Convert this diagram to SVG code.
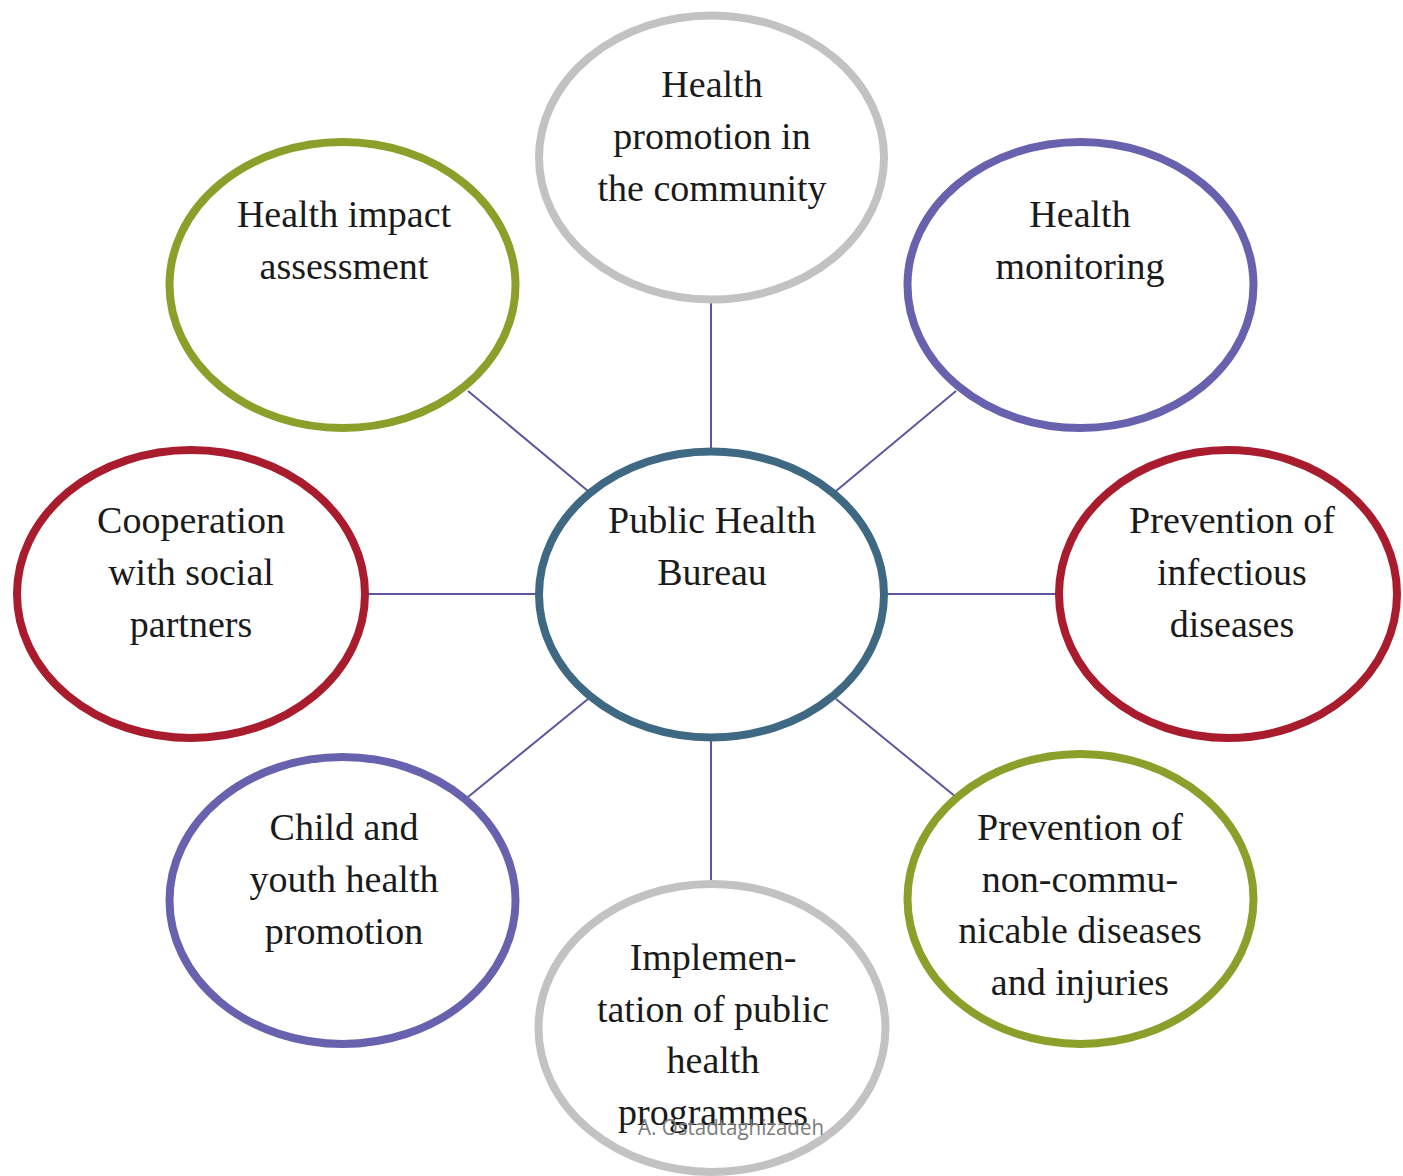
<svg xmlns="http://www.w3.org/2000/svg" width="1403" height="1176" viewBox="0 0 1403 1176">
  <style>
    .ring { fill: #ffffff; stroke-width: 8; }
    .center { stroke: #3f6983; }
    .gray { stroke: #c2c2c2; }
    .green { stroke: #8b9f2b; }
    .purple { stroke: #6761ae; }
    .red { stroke: #a91c2d; }
    .link { stroke: #5c56a0; stroke-width: 2; fill: none; }
    .label { font-family: "Liberation Serif", "Times New Roman", serif; font-size: 38px; fill: #1a1a1a; text-anchor: middle; }
    .mark { font-family: "Open Sans", "Liberation Sans", sans-serif; font-size: 21px; fill: #7c7c7c; }
  </style>
  <rect width="1403" height="1176" fill="#ffffff"/>

  <!-- spokes from the bureau to each area of work -->
  <g id="connectors">
    <line class="link" x1="711" y1="301" x2="711" y2="450"/>
    <line class="link" x1="468" y1="391" x2="588" y2="491"/>
    <line class="link" x1="956" y1="391" x2="836" y2="491"/>
    <line class="link" x1="365" y1="594" x2="537" y2="594"/>
    <line class="link" x1="886" y1="594" x2="1057" y2="594"/>
    <line class="link" x1="588" y1="699" x2="468" y2="797"/>
    <line class="link" x1="836" y1="699" x2="956" y2="797"/>
    <line class="link" x1="711" y1="739" x2="711" y2="882"/>
  </g>

  <g id="node-bureau">
    <ellipse class="ring center" cx="711.5" cy="594.5" rx="172.5" ry="143"/>
    <text class="label" x="712" y="533">Public Health</text>
    <text class="label" x="712" y="585">Bureau</text>
  </g>

  <g id="node-community">
    <ellipse class="ring gray" cx="711.5" cy="157.5" rx="172.5" ry="142"/>
    <text class="label" x="712" y="97">Health</text>
    <text class="label" x="712" y="149">promotion in</text>
    <text class="label" x="712" y="201">the community</text>
  </g>

  <g id="node-impact">
    <ellipse class="ring green" cx="342.5" cy="285" rx="173" ry="143"/>
    <text class="label" x="344" y="227">Health impact</text>
    <text class="label" x="344" y="279">assessment</text>
  </g>

  <g id="node-monitoring">
    <ellipse class="ring purple" cx="1080.5" cy="285" rx="173" ry="143"/>
    <text class="label" x="1080" y="227">Health</text>
    <text class="label" x="1080" y="279">monitoring</text>
  </g>

  <g id="node-cooperation">
    <ellipse class="ring red" cx="191" cy="594" rx="174" ry="144"/>
    <text class="label" x="191" y="533">Cooperation</text>
    <text class="label" x="191" y="585">with social</text>
    <text class="label" x="191" y="637">partners</text>
  </g>

  <g id="node-infectious">
    <ellipse class="ring red" cx="1228" cy="594" rx="169" ry="144"/>
    <text class="label" x="1232" y="533">Prevention of</text>
    <text class="label" x="1232" y="585">infectious</text>
    <text class="label" x="1232" y="637">diseases</text>
  </g>

  <g id="node-youth">
    <ellipse class="ring purple" cx="342.5" cy="900.5" rx="173" ry="143.5"/>
    <text class="label" x="344" y="840">Child and</text>
    <text class="label" x="344" y="892">youth health</text>
    <text class="label" x="344" y="944">promotion</text>
  </g>

  <g id="node-noncommunicable">
    <ellipse class="ring green" cx="1080.5" cy="899" rx="173" ry="145"/>
    <text class="label" x="1080" y="840">Prevention of</text>
    <text class="label" x="1080" y="892">non-commu-</text>
    <text class="label" x="1080" y="943">nicable diseases</text>
    <text class="label" x="1080" y="995">and injuries</text>
  </g>

  <g id="node-programmes">
    <ellipse class="ring gray" cx="712" cy="1028" rx="173.5" ry="144"/>
    <text class="label" x="713" y="970">Implemen-</text>
    <text class="label" x="713" y="1022">tation of public</text>
    <text class="label" x="713" y="1073">health</text>
    <text class="label" x="713" y="1125">programmes</text>
  </g>

  <!-- author credit laid over the lower ellipse -->
  <text class="mark" x="638" y="1135" textLength="186" lengthAdjust="spacingAndGlyphs">A. Ostadtaghizadeh</text>
</svg>
